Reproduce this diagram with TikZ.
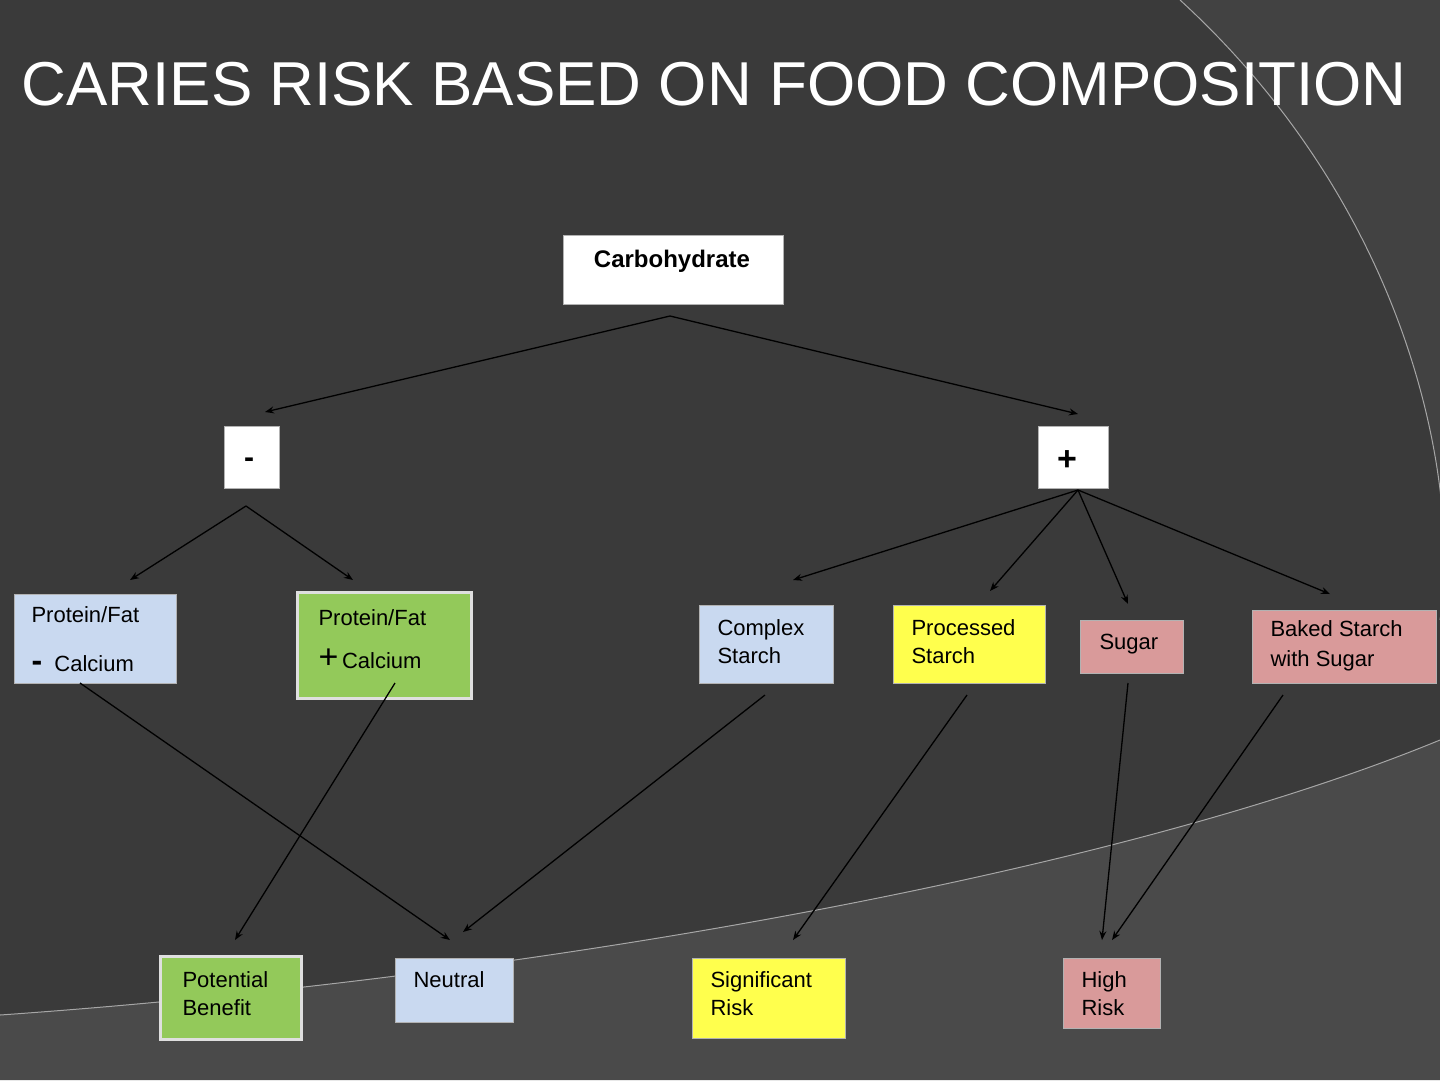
\documentclass[tikz,border=0pt]{standalone}
\usepackage{fontspec}
\setmainfont{Liberation Sans}
\usetikzlibrary{arrows.meta}
\definecolor{bgd}{HTML}{3A3A3A}
\definecolor{bgl}{HTML}{4A4A4A}
\definecolor{bgm}{HTML}{424242}
\definecolor{cblue}{HTML}{C9D9F0}
\definecolor{cgreen}{HTML}{93C95A}
\definecolor{cyel}{HTML}{FFFF4D}
\definecolor{cpink}{HTML}{D99A9A}
\begin{document}
\begin{tikzpicture}[x=1pt,y=-1pt,
  box/.style={draw=gray!60, line width=1pt, font=\fontsize{22}{25}\selectfont, align=left, inner sep=0pt, anchor=north west},
  arr/.style={-{Stealth[length=9pt,width=7pt]}, line width=1.3pt, black}]
\useasboundingbox (0,0) rectangle (1440,1080);
\fill[bgd] (0,0) rectangle (1440,1080);
\begin{scope}
\clip (0,0) rectangle (1440,1080);
\fill[bgm] (1180,0) .. controls (1420,220) and (1460,500) .. (1440,620) -- (1440,0) -- cycle;
\draw[gray!70, line width=1pt] (1180,0) .. controls (1420,220) and (1460,500) .. (1440,620);
\fill[bgl] (0,1015) .. controls (500,980) and (1100,880) .. (1440,740) -- (1440,1080) -- (0,1080) -- cycle;
\draw[gray!70, line width=1pt] (0,1015) .. controls (500,980) and (1100,880) .. (1440,740);
\end{scope}
\node[white, font=\fontsize{62}{70}\selectfont, inner sep=0pt] (title) at (714,84) {CARIES RISK BASED ON FOOD COMPOSITION};

\node[box, fill=white, minimum width=220pt, minimum height=69pt] (carb) at (563,235) {};
\node[font=\fontsize{24}{28}\selectfont\bfseries] at (672,261) {Carbohydrate};
\node[box, fill=white, minimum width=55pt, minimum height=62pt, font=\fontsize{30}{30}\selectfont\bfseries, align=center] (minus) at (224,426) {};
\node[font=\fontsize{30}{30}\selectfont\bfseries] at (249,463) {-};
\node[box, fill=white, minimum width=70pt, minimum height=62pt] (plus) at (1038,426) {};
\node[font=\fontsize{34}{34}\selectfont\bfseries] at (1067,461) {+};

\node[box, fill=cblue, minimum width=162pt, minimum height=89pt] (pfm) at (14,594) {};
\node[anchor=north west, font=\fontsize{22}{25}\selectfont] at (28,603) {Protein/Fat};
\node[anchor=north west, font=\fontsize{22}{25}\selectfont] at (28,652) {{\fontsize{32}{30}\selectfont\bfseries -}\ \ Calcium};
\node[box, fill=cgreen, draw=gray!25, line width=2.5pt, minimum width=174pt, minimum height=106pt] (pfp) at (296,591) {};
\node[anchor=north west, font=\fontsize{22}{25}\selectfont] at (315,606) {Protein/Fat};
\node[anchor=north west, font=\fontsize{22}{25}\selectfont] at (315,645) {{\fontsize{34}{30}\selectfont +}\,Calcium};

\node[box, fill=cblue, minimum width=134pt, minimum height=78pt] (cs) at (699,605) {};
\node[anchor=north west, align=left, font=\fontsize{22}{28}\selectfont] at (714,616) {Complex\\Starch};
\node[box, fill=cyel, minimum width=152pt, minimum height=78pt] (ps) at (893,605) {};
\node[anchor=north west, align=left, font=\fontsize{22}{28}\selectfont] at (908,616) {Processed\\Starch};
\node[box, fill=cpink, minimum width=103pt, minimum height=53pt] (sug) at (1080,620) {};
\node[anchor=north west, font=\fontsize{22}{28}\selectfont] at (1096,631) {Sugar};
\node[box, fill=cpink, minimum width=184pt, minimum height=73pt] (bs) at (1252,610) {};
\node[anchor=north west, align=left, font=\fontsize{22}{30}\selectfont] at (1267,617) {Baked Starch\\with Sugar};

\node[box, fill=cgreen, draw=gray!25, line width=2.5pt, minimum width=141pt, minimum height=83pt] (pb) at (159,955) {};
\node[anchor=north west, align=left, font=\fontsize{22}{28}\selectfont] at (179,968) {Potential\\Benefit};
\node[box, fill=cblue, minimum width=118pt, minimum height=64pt] (neu) at (395,958) {};
\node[anchor=north west, font=\fontsize{22}{28}\selectfont] at (410,968) {Neutral};
\node[box, fill=cyel, minimum width=153pt, minimum height=80pt] (sr) at (692,958) {};
\node[anchor=north west, align=left, font=\fontsize{22}{28}\selectfont] at (707,968) {Significant\\Risk};
\node[box, fill=cpink, minimum width=97pt, minimum height=70pt] (hr) at (1063,958) {};
\node[anchor=north west, align=left, font=\fontsize{22}{28}\selectfont] at (1078,968) {High\\Risk};

\coordinate (c0) at (670,316);
\coordinate (m0) at (246,506);
\coordinate (p0) at (1078,490);
\coordinate (a1) at (80,683);
\coordinate (a2) at (395,683);
\coordinate (a3) at (765,695);
\coordinate (a4) at (967,695);
\coordinate (a5) at (1128,683);
\coordinate (a6) at (1283,695);
\coordinate (t1) at (265,412);
\coordinate (t2) at (1078,414);
\coordinate (t3) at (130,580);
\coordinate (t4) at (353,580);
\coordinate (t5) at (793,580);
\coordinate (t6) at (990,591);
\coordinate (t7) at (1128,604);
\coordinate (t8) at (1330,594);
\coordinate (b1) at (450,940);
\coordinate (b2) at (235,940);
\coordinate (b3) at (463,932);
\coordinate (b4) at (793,940);
\coordinate (b5) at (1102,940);
\coordinate (b6) at (1112,940);
\draw[arr] (c0) -- (t1);
\draw[arr] (c0) -- (t2);
\draw[arr] (m0) -- (t3);
\draw[arr] (m0) -- (t4);
\draw[arr] (p0) -- (t5);
\draw[arr] (p0) -- (t6);
\draw[arr] (p0) -- (t7);
\draw[arr] (p0) -- (t8);
\draw[arr] (a1) -- (b1);
\draw[arr] (a2) -- (b2);
\draw[arr] (a3) -- (b3);
\draw[arr] (a4) -- (b4);
\draw[arr] (a5) -- (b5);
\draw[arr] (a6) -- (b6);
\end{tikzpicture}
\end{document}
